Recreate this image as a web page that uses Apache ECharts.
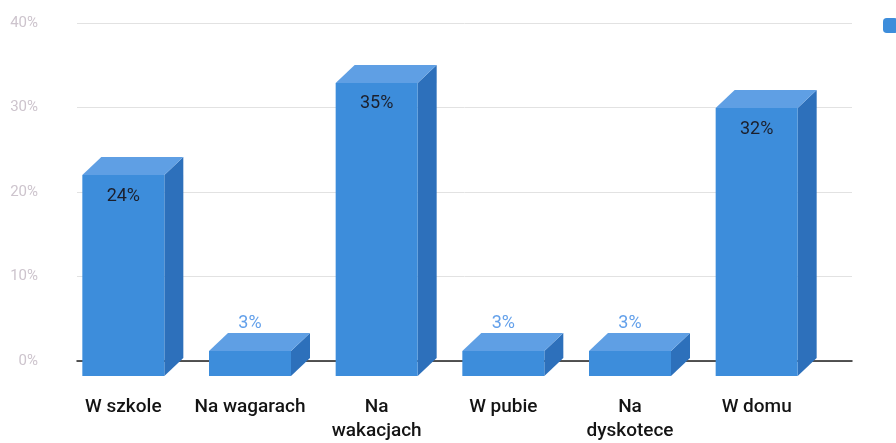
<!DOCTYPE html>
<html>
<head>
<meta charset="utf-8">
<script src="https://cdn.jsdelivr.net/npm/echarts@6/dist/echarts.min.js"></script>
<style>
  html, body { margin: 0; padding: 0; background: #fff; }
  #chart { width: 896px; height: 443px; }
</style>
</head>
<body>
<div id="chart"></div>
<script>
// Where respondents answered — share of answers per place
const categories = ['W szkole', 'Na wagarach', 'Na\nwakacjach', 'W pubie', 'Na\ndyskotece', 'W domu'];
const shares = [24, 3, 35, 3, 3, 32];
const seriesName = 'Seria 1';
const yMin = 0, yMax = 40, yStep = 10;

// 3D box look: the back face sits on the value axis, the front face is shifted down-left
const DEPTH_X = 19, DEPTH_Y = 18, BOX_W = 82;
const FRONT = '#3d8ddb', TOP = '#5f9fe4', SIDE = '#2d70bb';

const chart = echarts.init(document.getElementById('chart'));

function renderBox(params, api) {
  const i = api.value(0), v = api.value(1);
  const base = api.coord([i, 0]);
  const peak = api.coord([i, v]);
  const cx = base[0];            // front-face centre
  const y0 = base[1], y1 = peak[1];
  const fl = cx - BOX_W / 2, fr = cx + BOX_W / 2;
  const bl = fl + DEPTH_X, br = fr + DEPTH_X;
  const inside = v >= 10;
  return {
    type: 'group',
    children: [
      { type: 'polygon', shape: { points: [[fr, y1 + DEPTH_Y], [br, y1], [br, y0], [fr, y0 + DEPTH_Y]] },
        style: { fill: SIDE } },
      { type: 'polygon', shape: { points: [[fl, y1 + DEPTH_Y], [bl, y1], [br, y1], [fr, y1 + DEPTH_Y]] },
        style: { fill: TOP } },
      { type: 'rect', shape: { x: fl, y: y1 + DEPTH_Y, width: BOX_W, height: y0 - y1 },
        style: { fill: FRONT } },
      { type: 'text', x: cx, y: inside ? y1 + DEPTH_Y + 21 : y1 - 9,
        style: { text: v + '%', fill: inside ? '#1c1f2b' : '#63a0ea', fontSize: 18,
                 fontFamily: 'Roboto', align: 'center', verticalAlign: 'middle' } }
    ]
  };
}

chart.setOption({
  animation: false,
  backgroundColor: '#ffffff',
  legend: {
    left: 883, top: 18, padding: 0, itemWidth: 15, itemHeight: 15, icon: 'roundRect',
    textStyle: { fontSize: 14, color: '#444' },
    data: [seriesName]
  },
  grid: [
    { left: 77, right: 44, top: 23, bottom: 82 },
    { left: 60, right: 76, top: 23, bottom: 82 }
  ],
  xAxis: [
    { gridIndex: 0, type: 'category', data: categories,
      axisLine: { lineStyle: { color: '#1e1e1e', width: 1.5 } },
      axisTick: { show: false }, axisLabel: { show: false } },
    { gridIndex: 1, type: 'category', data: categories,
      axisLine: { show: false }, axisTick: { show: false },
      axisLabel: { interval: 0, margin: 37, fontSize: 19, fontWeight: 500, lineHeight: 24,
                   color: '#141414', fontFamily: 'Roboto' } }
  ],
  yAxis: [
    { gridIndex: 0, type: 'value', min: yMin, max: yMax, interval: yStep,
      axisLine: { show: false }, axisTick: { show: false },
      splitLine: { lineStyle: { color: '#e2e2e2', width: 1 } },
      axisLabel: { formatter: '{value}%', color: '#cdc4cd', fontSize: 15, margin: 39, fontFamily: 'Roboto' } },
    { gridIndex: 1, type: 'value', min: yMin, max: yMax, interval: yStep, show: false }
  ],
  series: [{
    name: seriesName,
    type: 'custom',
    xAxisIndex: 1, yAxisIndex: 1,
    clip: false,
    itemStyle: { color: FRONT },
    encode: { x: 0, y: 1 },
    data: shares.map((v, i) => [i, v]),
    renderItem: renderBox
  }]
});
</script>
</body>
</html>
